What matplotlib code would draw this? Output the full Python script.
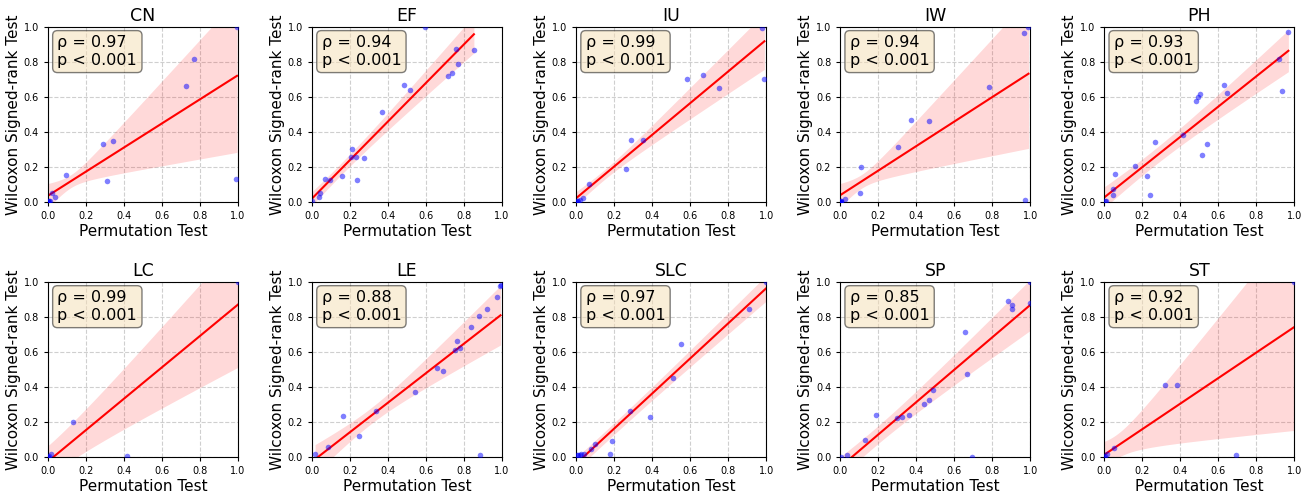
import numpy as np
import matplotlib
matplotlib.use('Agg')
import matplotlib.pyplot as plt

panels = ['CN', 'EF', 'IU', 'IW', 'PH', 'LC', 'LE', 'SLC', 'SP', 'ST']
rho_labels = ['0.97', '0.94', '0.99', '0.94', '0.93', '0.99', '0.88', '0.97', '0.85', '0.92']
p_label = 'p < 0.001'

cn_perm = [0.995, 0.769, 0.727, 0.343, 0.290, 0.313, 0.093, 0.023, 0.035, 0.009, 0.988, 0.005, 0.002, 0.0]
cn_wilc = [0.995, 0.815, 0.661, 0.345, 0.328, 0.122, 0.156, 0.053, 0.029, 0.004, 0.133, 0.008, 0.003, 0.001]

ef_perm = [0.595, 0.759, 0.852, 0.770, 0.735, 0.716, 0.482, 0.517, 0.368, 0.211, 0.206, 0.232, 0.276,
           0.159, 0.237, 0.066, 0.092, 0.040, 0.035, 0.0]
ef_wilc = [1.0, 0.871, 0.865, 0.789, 0.736, 0.721, 0.666, 0.638, 0.514, 0.300, 0.256, 0.256, 0.249,
           0.146, 0.125, 0.133, 0.123, 0.051, 0.028, 0.004]

iu_perm = [0.979, 0.991, 0.666, 0.582, 0.750, 0.288, 0.350, 0.262, 0.069, 0.035, 0.021, 0.009, 0.003, 0.0]
iu_wilc = [0.992, 0.702, 0.723, 0.702, 0.651, 0.355, 0.351, 0.186, 0.104, 0.025, 0.013, 0.008, 0.004, 0.002]

iw_perm = [0.991, 0.968, 0.783, 0.371, 0.468, 0.305, 0.112, 0.105, 0.025, 0.974, 0.005, 0.003, 0.002, 0.001, 0.0]
iw_wilc = [0.996, 0.964, 0.658, 0.467, 0.463, 0.315, 0.201, 0.049, 0.017, 0.013, 0.004, 0.003, 0.002, 0.001, 0.001]

ph_perm = [0.969, 0.921, 0.934, 0.631, 0.647, 0.502, 0.491, 0.481, 0.414, 0.267, 0.538, 0.512,
           0.163, 0.226, 0.058, 0.047, 0.044, 0.238, 0.007, 0.002]
ph_wilc = [0.970, 0.817, 0.635, 0.667, 0.620, 0.616, 0.597, 0.576, 0.382, 0.342, 0.329, 0.270,
           0.205, 0.146, 0.162, 0.074, 0.040, 0.042, 0.008, 0.003]

lc_perm = [1.0, 0.130, 0.414, 0.014, 0.005, 0.002, 0.0]
lc_wilc = [0.996, 0.199, 0.004, 0.015, 0.006, 0.002, 0.001]

le_perm = [0.988, 0.992, 0.972, 0.921, 0.881, 0.839, 0.765, 0.779, 0.754, 0.656, 0.691, 0.540,
           0.339, 0.165, 0.246, 0.082, 0.016, 0.882]
le_wilc = [0.977, 0.980, 0.913, 0.844, 0.805, 0.742, 0.660, 0.621, 0.609, 0.505, 0.493, 0.370,
           0.260, 0.233, 0.118, 0.055, 0.015, 0.009]

slc_perm = [1.0, 0.909, 0.550, 0.508, 0.281, 0.390, 0.188, 0.179, 0.097, 0.077, 0.044,
            0.028, 0.018, 0.012, 0.006]
slc_wilc = [0.996, 0.846, 0.645, 0.448, 0.260, 0.226, 0.091, 0.015, 0.074, 0.044, 0.019,
            0.016, 0.013, 0.012, 0.010]

sp_perm = [1.0, 0.998, 0.884, 0.905, 0.902, 0.658, 0.669, 0.489, 0.466, 0.441, 0.364, 0.327,
           0.299, 0.191, 0.130, 0.037, 0.695, 0.005]
sp_wilc = [0.996, 0.880, 0.892, 0.865, 0.842, 0.715, 0.476, 0.380, 0.323, 0.304, 0.241, 0.228,
           0.224, 0.237, 0.099, 0.013, 0.0, 0.002]

st_perm = [0.996, 0.319, 0.382, 0.049, 0.014, 0.004, 0.693, 0.001]
st_wilc = [0.996, 0.408, 0.408, 0.049, 0.017, 0.006, 0.009, 0.002]

perm_data = [cn_perm, ef_perm, iu_perm, iw_perm, ph_perm, lc_perm, le_perm, slc_perm, sp_perm, st_perm]
wilc_data = [cn_wilc, ef_wilc, iu_wilc, iw_wilc, ph_wilc, lc_wilc, le_wilc, slc_wilc, sp_wilc, st_wilc]

fig, axes = plt.subplots(2, 5, figsize=(13.1, 4.93), dpi=100)
fig.subplots_adjust(left=0.0366, right=0.988, top=0.946, bottom=0.073, wspace=0.39, hspace=0.455)

for ax, name, rho, xs, ys in zip(axes.flat, panels, rho_labels, perm_data, wilc_data):
    x = np.asarray(xs, float)
    y = np.asarray(ys, float)
    n = len(x)
    X = np.column_stack([np.ones(n), x])
    beta, *_ = np.linalg.lstsq(X, y, rcond=None)
    resid = y - X @ beta
    bread = np.linalg.inv(X.T @ X)
    meat = (X * resid[:, None] ** 2).T @ X
    cov = bread @ meat @ bread * n / (n - 2)
    grid = np.linspace(x.min(), x.max(), 100)
    G = np.column_stack([np.ones_like(grid), grid])
    fit = G @ beta
    se = np.sqrt(np.einsum('ij,jk,ik->i', G, cov, G))
    ax.scatter(x, y, s=16, color='blue', alpha=0.5, linewidths=0, zorder=3)
    ax.fill_between(grid, fit - 1.96 * se, fit + 1.96 * se, color='red', alpha=0.15, linewidth=0, zorder=1)
    ax.plot(grid, fit, color='red', lw=1.5, zorder=2)
    ax.set_xlim(0, 1)
    ax.set_ylim(0, 1)
    ax.set_xticks(np.arange(0, 1.01, 0.2))
    ax.set_yticks(np.arange(0, 1.01, 0.2))
    ax.tick_params(labelsize=7, length=3)
    ax.grid(True, linestyle='--', alpha=0.6)
    ax.set_axisbelow(True)
    ax.set_title(name, fontsize=12.5, pad=4)
    ax.set_xlabel('Permutation Test', fontsize=11, labelpad=2)
    ax.set_ylabel('Wilcoxon Signed-rank Test', fontsize=11, labelpad=2)
    ax.text(0.05, 0.95, f'ρ = {rho}\n{p_label}', transform=ax.transAxes, fontsize=11.5,
            va='top', ha='left', bbox=dict(boxstyle='round', facecolor='wheat', alpha=0.5), zorder=5)

fig.savefig('out.png', dpi=100)
